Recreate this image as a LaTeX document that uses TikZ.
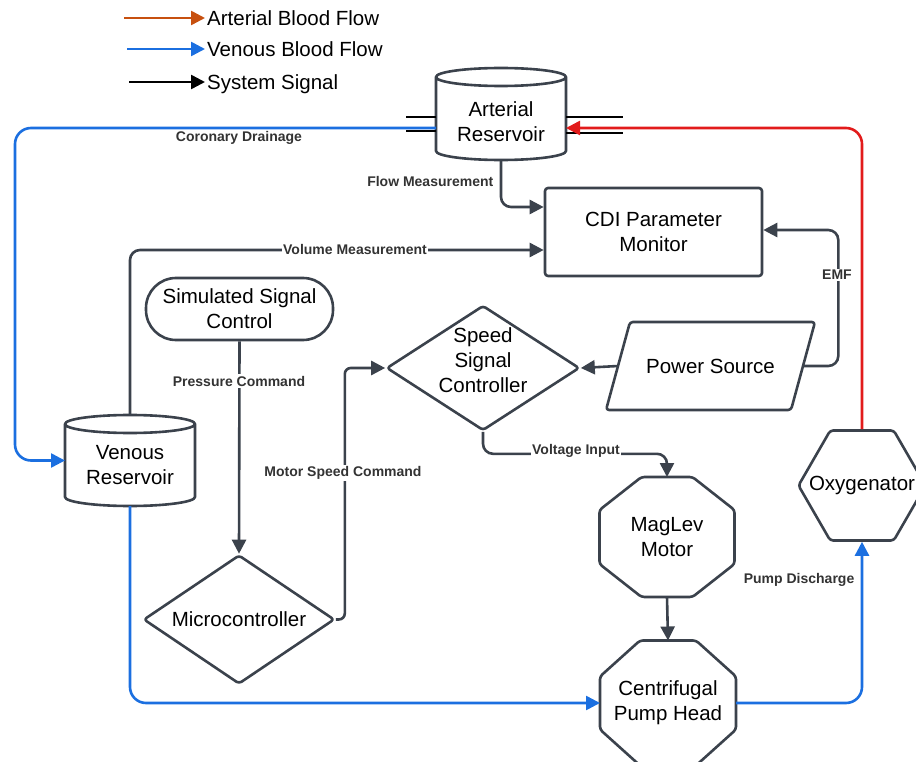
\documentclass[tikz,border=0pt]{standalone}
\usepackage{fontspec}
\setmainfont{Liberation Sans}
\usetikzlibrary{arrows.meta,shapes.geometric}

\definecolor{linegray}{HTML}{3B424C}
\definecolor{taggray}{HTML}{333333}
\definecolor{artred}{HTML}{E21B1B}
\definecolor{legorange}{HTML}{C7500F}
\definecolor{venblue}{HTML}{1B6FE0}

\newcommand{\boxfont}{\fontsize{20.5}{25}\selectfont}
\newcommand{\tagfont}{\fontsize{14}{16}\selectfont\bfseries}

\tikzset{
  edgeline/.style={draw=linegray, line width=2.6pt, line join=round},
  block/.style={edgeline, font=\boxfont, align=center, inner sep=2pt},
  boxtext/.style={font=\boxfont, align=center},
  bare/.style={inner sep=0pt, outer sep=0pt},
  tank/.style={bare, minimum width=130, minimum height=92},
  octa/.style={bare, font=\boxfont, align=center},
  sigtip/.style={-{Triangle[length=14pt,width=14pt]}},
  sig/.style={draw=linegray, line width=2.6pt, rounded corners=10pt, sigtip},
  venflow/.style={sig, draw=venblue, rounded corners=16pt},
  artflow/.style={sig, draw=artred, rounded corners=16pt},
  pipe/.style={draw=black, line width=2pt},
  tag/.style={font=\tagfont, text=taggray, fill=white, inner sep=1.5pt},
  legtext/.style={font=\boxfont, anchor=west, inner sep=2pt, text depth=0pt}
}

\begin{document}
\begin{tikzpicture}[x=1pt,y=-1pt]
\useasboundingbox (0,0) rectangle (916,762);

% legend
\foreach \c/\x/\y/\t in {legorange/124/18/Arterial Blood Flow,
                         venblue/127/49/Venous Blood Flow,
                         black/129/82/System Signal} {
  \coordinate (leg0\y) at (\x,\y);
  \node[legtext] (leg\y) at (205,\y) {\t};
  \draw[line width=2.6pt, draw=\c, sigtip] (leg0\y) -- (leg\y.west);
}

% reservoirs
\node[tank, label={[boxtext, yshift=-8pt]center:Arterial\\Reservoir}] (art) at (501,114) {};
\node[tank, minimum height=91, label={[boxtext, yshift=-5pt]center:Venous\\Reservoir}] (ven) at (130,460.5) {};
\foreach \n in {art,ven}
  \draw[edgeline] ([yshift=-9pt]\n.north west) -- ([yshift=9pt]\n.south west)
    arc[start angle=180, end angle=360, x radius=65pt, y radius=9pt]
    -- ([yshift=-9pt]\n.north east)
    arc[start angle=0, end angle=360, x radius=65pt, y radius=9pt];

% pipe stubs on the arterial reservoir
\foreach \dy in {-3,-17} \draw[pipe] ([yshift=\dy pt]art.west) -- ++(-30,0);
\foreach \dy in {-3,-19} \draw[pipe] ([yshift=\dy pt]art.east) -- ++(57,0);

% monitor, control and power blocks
\node[block, minimum width=217, minimum height=88, rounded corners=3pt] (cdi) at (653.5,232) {CDI Parameter\\Monitor};
\node[block, minimum width=187, minimum height=62, rounded corners=30pt] (sim) at (239.5,309) {Simulated Signal\\Control};
\node[block, diamond, minimum width=193, minimum height=125, inner sep=0pt, rounded corners=3pt,
      label={[boxtext, yshift=8pt]center:Speed\\Signal\\Controller}] (ssc) at (483,368) {};
\node[block, diamond, minimum width=191, minimum height=129, inner sep=0pt, rounded corners=3pt,
      label={[boxtext]center:Microcontroller}] (mcu) at (239,619.5) {};
\node[block, regular polygon, regular polygon sides=6, minimum size=127, inner sep=0pt, rounded corners=3pt,
      label={[boxtext]center:Oxygenator}] (oxy) at (862,485.5) {};

% power source (parallelogram)
\node[bare, font=\boxfont, minimum width=209, minimum height=88] (pwr) at (710.5,366) {Power Source};
\draw[edgeline, rounded corners=3pt] ([xshift=24pt]pwr.north west) -- (pwr.north east)
  -- ([xshift=-24pt]pwr.south east) -- (pwr.south west) -- cycle;
\coordinate (pwrin) at ([xshift=12pt]pwr.west);
\coordinate (pwrout) at ([xshift=-12pt]pwr.east);

% motor and pump head (octagons)
\node[octa, minimum width=135, minimum height=120] (motor) at (667,537) {MagLev\\Motor};
\node[octa, minimum width=136, minimum height=125] (pump) at (668,703) {Centrifugal\\Pump Head};
\foreach \n/\cx/\cy in {motor/42/33, pump/40/36}
  \draw[edgeline, rounded corners=3pt] ([xshift=\cx pt]\n.north west) -- ([xshift=-\cx pt]\n.north east)
    -- ([yshift=-\cy pt]\n.north east) -- ([yshift=\cy pt]\n.south east)
    -- ([xshift=-\cx pt]\n.south east) -- ([xshift=\cx pt]\n.south west)
    -- ([yshift=\cy pt]\n.south west) -- ([yshift=-\cy pt]\n.north west) -- cycle;

% blood flow
\coordinate (artout) at ([yshift=-14pt]art.west);
\coordinate (artin) at ([yshift=-14pt]art.east);
\draw[venflow] (artout) -| ([xshift=-50pt]ven.west) -- (ven.west);
\draw[artflow] (oxy.north) |- (artin);
\draw[venflow] (ven.south) |- (pump.west);
\draw[venflow] (pump.east) -| (oxy.south);

% signals
\draw[sig] (art.south) |- ([yshift=25pt]cdi.west);
\draw[sig] (ven.north) |- ([yshift=-18pt]cdi.west);
\draw[sig] (sim.south) -- (mcu.north);
\draw[sig, rounded corners=6pt] (mcu.east) -- ++(9,0) |- (ssc.west);
\draw[sig] (pwrin) -- (ssc.east);
\draw[sig] (pwrout) -| ([xshift=75pt,yshift=2pt]cdi.east) -- ([yshift=2pt]cdi.east);
\draw[sig] (ssc.south) -- ++(0,22) -| (motor.north);
\draw[sig] (motor.south) -- (pump.north);

% connector labels
\node[tag] (cdlbl) at (239,138) {Coronary Drainage};
\node[tag, anchor=east] (flowlbl) at (495,181) {Flow Measurement};
\node[tag] (vollbl) at (355,249) {Volume Measurement};
\node[tag] (preslbl) at (239,381) {Pressure Command};
\node[tag] (spdlbl) at (343,473) {Motor Speed Command};
\node[tag] (voltlbl) at (576,451) {Voltage Input};
\node[tag] (emflbl) at (837,275) {EMF};
\node[tag, anchor=east] (pdlbl) at (856,580) {Pump Discharge};
\end{tikzpicture}
\end{document}
